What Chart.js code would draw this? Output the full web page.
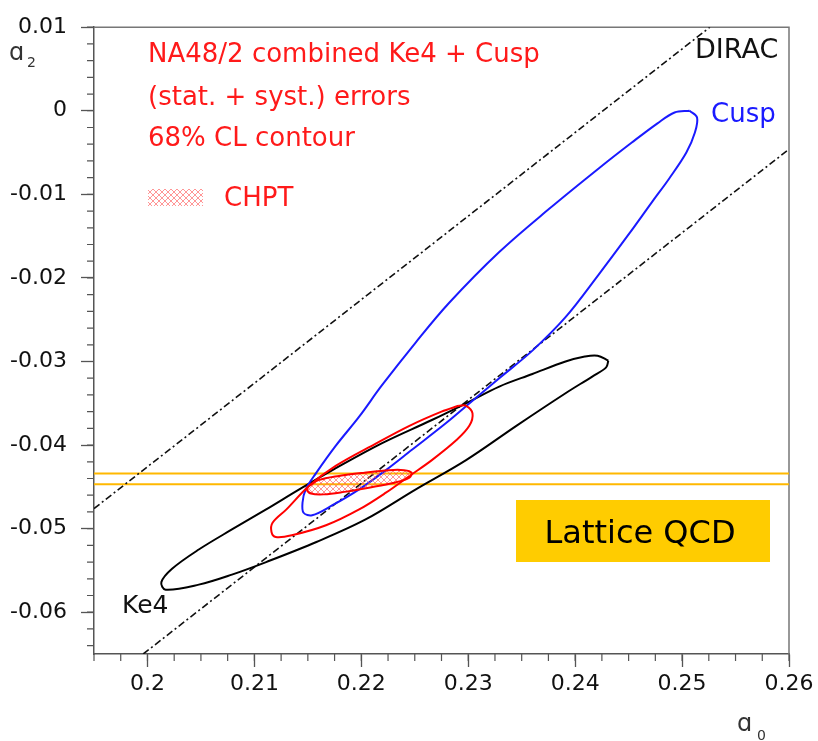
<!DOCTYPE html>
<html>
<head>
<meta charset="utf-8">
<script src="https://cdn.jsdelivr.net/npm/chart.js@4.4.0/dist/chart.umd.min.js"></script>
<style>
body{margin:0;background:#fff}
canvas{display:block}
</style>
</head>
<body>
<canvas id="plot" width="818" height="741"></canvas>
<script>
// axis ticks
const xTicks = [0.2, 0.21, 0.22, 0.23, 0.24, 0.25, 0.26];
const xTickLabels = ['0.2', '0.21', '0.22', '0.23', '0.24', '0.25', '0.26'];
const yTicks = [-0.06, -0.05, -0.04, -0.03, -0.02, -0.01, 0, 0.01];
const yTickLabels = ['-0.06', '-0.05', '-0.04', '-0.03', '-0.02', '-0.01', '0', '0.01'];

// 68% CL contours (a0, a2)
const cuspA0 = [0.2507, 0.2514, 0.2512, 0.2504, 0.2488, 0.2472, 0.2450, 0.2422, 0.2391, 0.2360, 0.2329, 0.2304,
    0.2279, 0.2247, 0.2223, 0.2198, 0.2173, 0.2154, 0.2146, 0.2145, 0.2148, 0.2158, 0.2176, 0.2198, 0.2219,
    0.2251, 0.2282, 0.2329, 0.2376, 0.2422, 0.2453, 0.2477, 0.2493];
const cuspA2 = [0, -0.0008, -0.0026, -0.0050, -0.0081, -0.0109, -0.0148, -0.0196, -0.0247, -0.0287, -0.0320, -0.0347,
    -0.0374, -0.0406, -0.0430, -0.0453, -0.0472, -0.0484, -0.0481, -0.0469, -0.0453, -0.0433, -0.0401, -0.0366, -0.0329,
    -0.0277, -0.0230, -0.0169, -0.0117, -0.0069, -0.0038, -0.0015, -0.0002];

const ke4A0 = [0.2431, 0.2421, 0.2409, 0.2391, 0.2360, 0.2329, 0.2298, 0.2266, 0.2219, 0.2173, 0.2142, 0.2111, 0.2079,
    0.2048, 0.2023, 0.2013, 0.2017, 0.2048, 0.2079, 0.2111, 0.2158, 0.2204, 0.2251, 0.2298, 0.2345, 0.2391,
    0.2416, 0.2429];
const ke4A2 = [-0.0299, -0.0293, -0.0294, -0.0300, -0.0315, -0.0330, -0.0350, -0.0370, -0.0398, -0.0430, -0.0453, -0.0477, -0.0501,
    -0.0525, -0.0548, -0.0564, -0.0573, -0.0567, -0.0555, -0.0540, -0.0516, -0.0489, -0.0453, -0.0418, -0.0377, -0.0338,
    -0.0318, -0.0307];

const combA0 = [0.2291, 0.2298, 0.2304, 0.2301, 0.2289, 0.2266, 0.2245, 0.2223, 0.2198, 0.2167, 0.2135, 0.2120,
    0.2116, 0.2117, 0.2130, 0.2151, 0.2176, 0.2214, 0.2245, 0.2275];
const combA2 = [-0.0353, -0.0353, -0.0362, -0.0377, -0.0394, -0.0418, -0.0437, -0.0457, -0.0477, -0.0496, -0.0508, -0.0510,
    -0.0504, -0.0493, -0.0477, -0.0449, -0.0425, -0.0398, -0.0377, -0.0360];

const chptA0 = [0.2151, 0.2160, 0.2179, 0.2203, 0.2226, 0.2240, 0.2247, 0.2245, 0.2231, 0.2207, 0.2184, 0.2165, 0.2153, 0.2149];
const chptA2 = [-0.0449, -0.0442, -0.0437, -0.0433, -0.0430, -0.0430, -0.0433, -0.0439, -0.0445, -0.0451, -0.0456, -0.0459, -0.0458, -0.0453];

// DIRAC band edges
const diracUpA0 = [0.195, 0.2526];
const diracUpA2 = [-0.0476, 0.01];
const diracLowA0 = [0.1996, 0.26];
const diracLowA2 = [-0.065, -0.0046];

// lattice QCD a2 band
const latticeA2 = [-0.0434, -0.0447];

function points(xs, ys, closed){
    let p = xs.map((x, i) => ({x: x, y: ys[i]}));
    if(closed) p.push(p[0]);
    return p;
}

// cross hatch for CHPT
const hatchCanvas = document.createElement('canvas');
hatchCanvas.width = 6;
hatchCanvas.height = 6;
const hc = hatchCanvas.getContext('2d');
hc.strokeStyle = 'rgba(255,80,80,0.6)';
hc.lineWidth = 1;
hc.beginPath();
hc.moveTo(0, 0); hc.lineTo(6, 6);
hc.moveTo(6, 0); hc.lineTo(0, 6);
hc.stroke();
const hatch = hc.createPattern(hatchCanvas, 'repeat');

const contour = (data, color) => ({
    data: data,
    showLine: true,
    borderColor: color,
    borderWidth: 2,
    pointRadius: 0,
    tension: 0.35,
    fill: false
});

const straight = (data, color, dash, width) => ({
    data: data,
    showLine: true,
    borderColor: color,
    borderWidth: width,
    borderDash: dash,
    pointRadius: 0,
    tension: 0,
    fill: false
});

const hatchPlugin = {
    id: 'hatchFill',
    beforeDatasetDraw(chart, args){
        if(args.index !== 0) return;
        const line = args.meta.dataset;
        const ctx = chart.ctx;
        line.updateControlPoints(chart.chartArea);
        ctx.save();
        ctx.beginPath();
        line.path(ctx);
        ctx.closePath();
        ctx.fillStyle = hatch;
        ctx.fill();
        ctx.restore();
    }
};

const framePlugin = {
    id: 'frame',
    beforeDatasetsDraw(chart){
        const {ctx, chartArea: a} = chart;
        ctx.save();
        ctx.strokeStyle = '#777';
        ctx.lineWidth = 1.5;
        ctx.beginPath();
        ctx.moveTo(a.left, a.top);
        ctx.lineTo(a.right, a.top);
        ctx.lineTo(a.right, a.bottom);
        ctx.stroke();

        // minor ticks
        const xs = chart.scales.x, ys = chart.scales.y;
        ctx.strokeStyle = '#555';
        ctx.lineWidth = 1.2;
        ctx.beginPath();
        for(let v = 0.195; v < 0.2601; v += 0.0025){
            const px = xs.getPixelForValue(v);
            ctx.moveTo(px, a.bottom);
            ctx.lineTo(px, a.bottom + 7);
        }
        for(let v = -0.064; v < 0.0101; v += 0.002){
            const py = ys.getPixelForValue(v);
            ctx.moveTo(a.left - 7, py);
            ctx.lineTo(a.left, py);
        }
        ctx.stroke();
        ctx.restore();
    }
};

const labelPlugin = {
    id: 'labels',
    afterDraw(chart){
        const ctx = chart.ctx;
        ctx.save();
        ctx.textAlign = 'left';
        ctx.textBaseline = 'alphabetic';

        ctx.fillStyle = '#ff1a1a';
        ctx.font = '26px "DejaVu Sans"';
        ctx.fillText('NA48/2 combined Ke4 + Cusp', 148, 62);
        ctx.fillText('(stat. + syst.) errors', 148, 105);
        ctx.fillText('68% CL contour', 148, 146);
        ctx.fillText('CHPT', 224, 206);
        ctx.fillStyle = hatch;
        ctx.fillRect(148, 189, 55, 17);

        ctx.fillStyle = '#111';
        ctx.font = '27px "DejaVu Sans"';
        ctx.fillText('DIRAC', 695, 58);
        ctx.font = '25px "DejaVu Sans"';
        ctx.fillText('Ke4', 122, 613);
        ctx.fillStyle = '#1a1aff';
        ctx.font = '26px "DejaVu Sans"';
        ctx.fillText('Cusp', 711, 122);

        // lattice box
        ctx.fillStyle = '#ffcc00';
        ctx.fillRect(516, 500, 254, 62);
        ctx.fillStyle = '#000';
        ctx.font = '32px "DejaVu Sans"';
        ctx.textAlign = 'center';
        ctx.fillText('Lattice QCD', 640, 543);

        // axis titles
        ctx.textAlign = 'left';
        ctx.fillStyle = '#333';
        ctx.font = '24px "DejaVu Sans"';
        ctx.fillText('ɑ', 9, 60);
        ctx.fillText('ɑ', 737, 731);
        ctx.font = '14px "DejaVu Sans"';
        ctx.fillText('2', 27, 67);
        ctx.fillText('0', 757, 740);
        ctx.restore();
    }
};

new Chart(document.getElementById('plot'), {
    type: 'scatter',
    data: {
        datasets: [
            contour(points(chptA0, chptA2, true), '#ff0000'),
            contour(points(combA0, combA2, true), '#ff0000'),
            contour(points(cuspA0, cuspA2, true), '#1a1aff'),
            contour(points(ke4A0, ke4A2, true), '#000000'),
            straight(points(diracUpA0, diracUpA2), '#111', [7, 3, 2, 3], 1.6),
            straight(points(diracLowA0, diracLowA2), '#111', [7, 3, 2, 3], 1.6),
            straight(points([0.195, 0.26], [latticeA2[0], latticeA2[0]]), '#ffb800', [], 2),
            straight(points([0.195, 0.26], [latticeA2[1], latticeA2[1]]), '#ffb800', [], 2)
        ]
    },
    options: {
        responsive: false,
        animation: false,
        devicePixelRatio: 1,
        layout: {
            padding: {top: 20, right: 29, left: 0, bottom: 0}
        },
        plugins: {
            legend: {display: false},
            tooltip: {enabled: false}
        },
        scales: {
            x: {
                type: 'linear',
                min: 0.195,
                max: 0.26,
                afterBuildTicks: scale => { scale.ticks = xTicks.map(v => ({value: v})); },
                afterFit: scale => { scale.height = 87; },
                ticks: {
                    callback: (v, i) => xTickLabels[i],
                    font: {family: 'DejaVu Sans', size: 22},
                    color: '#111',
                    padding: 4,
                    maxRotation: 0
                },
                grid: {
                    drawOnChartArea: false,
                    tickLength: 13,
                    tickColor: '#555',
                    tickWidth: 1.3
                },
                border: {color: '#555', width: 1.5}
            },
            y: {
                type: 'linear',
                min: -0.065,
                max: 0.01,
                afterBuildTicks: scale => { scale.ticks = yTicks.map(v => ({value: v})); },
                afterFit: scale => { scale.width = 94; },
                ticks: {
                    callback: (v, i) => yTickLabels[i],
                    font: {family: 'DejaVu Sans', size: 22},
                    color: '#111',
                    padding: 14
                },
                grid: {
                    drawOnChartArea: false,
                    tickLength: 13,
                    tickColor: '#555',
                    tickWidth: 1.3
                },
                border: {color: '#555', width: 1.5}
            }
        }
    },
    plugins: [hatchPlugin, framePlugin, labelPlugin]
});
</script>
</body>
</html>
